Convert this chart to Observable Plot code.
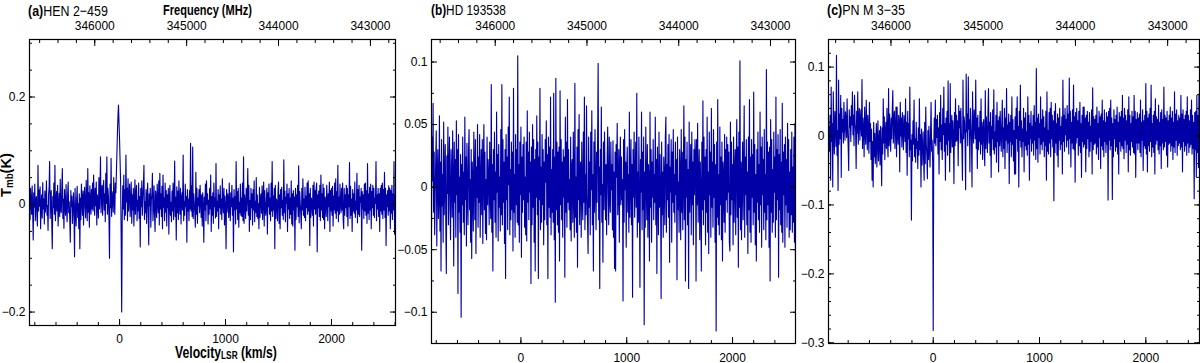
<!DOCTYPE html>
<html><head><meta charset="utf-8">
<script src="https://cdn.jsdelivr.net/npm/d3@7"></script>
<script src="https://cdn.jsdelivr.net/npm/@observablehq/plot@0.6"></script>
<style>
body{margin:0;background:#fff;}
#wrap{position:relative;width:1200px;height:363px;overflow:hidden;background:#fff;}
#wrap svg.pp{position:absolute;top:0;}
#overlay{position:absolute;left:0;top:0;pointer-events:none;}
</style></head><body><div id="wrap"></div>
<script>
const C = 299792.458;

// Panel titles
const panelTags = ["(a)", "(b)", "(c)"];
const panelNames = ["HEN 2\u2212459", "HD 193538", "PN M 3\u221235"];

// Channel grids (km/s)
const velStart = [-850, -850, -980];
const velStep = [5, 5, 5];
// Observed frequency (MHz) at v = 0 for each panel's top axis
const restFreq = [345730, 345720, 345542];

// Spectra, T_mb in mK (one row = 100 km/s)
const hen2459_mK = [
12,-28,30,4,-18,35,-10,-66,22,-5,38,-30,8,15,-22,-40,73,-12,27,-3,
33,-45,2,18,-25,41,-8,10,-36,25,-14,6,44,-20,-2,-48,19,30,80,-26,
8,26,-33,-82,15,-6,40,-18,73,-30,3,24,-12,36,-40,-4,21,-22,47,-9,
-15,30,67,-26,10,-44,28,4,-20,37,-8,-32,18,42,-15,5,-27,-70,26,-4,
16,-35,-8,22,-18,-97,30,-12,-40,9,34,-24,2,-45,20,-82,12,-28,38,6,
-20,25,-38,14,32,-6,-25,45,10,-30,67,-14,22,-42,35,4,-18,28,-8,40,
-12,55,8,-20,30,-2,42,-38,18,6,-25,50,-8,25,89,-15,12,36,-20,28,
45,-10,20,-32,58,2,89,-18,30,14,-28,-100,38,-6,86,-22,24,8,-14,50,
10,-18,40,22,60,95,135,165,185,150,120,80,40,-60,-200,-25,35,-8,55,-28,
28,-20,92,5,30,-30,48,-12,15,38,-22,6,42,-35,18,-10,30,-40,2,46,
-18,20,36,-30,8,-12,40,-26,15,-79,30,-4,44,-20,10,35,73,-28,5,-15,
28,-35,12,40,-10,-75,20,-2,30,-42,8,22,58,-30,-6,35,-18,-50,25,10,
-24,38,2,-15,44,-38,58,-8,20,-22,34,-45,55,-5,12,-30,40,-14,26,-40,
18,-6,30,-55,10,36,-20,4,-32,25,-12,40,-28,8,81,-22,14,-66,33,-15,
25,-28,44,2,-18,30,-36,12,22,-10,92,-30,6,-20,38,-4,15,-70,28,-12,
10,-30,26,-8,114,-12,35,-22,107,-26,20,4,-15,-42,60,-18,30,-35,12,-2,
28,-15,36,6,-24,18,-40,22,-6,-70,14,-10,38,-30,44,0,20,-36,8,-18,
30,-8,55,-50,15,-20,22,-35,40,-4,12,-25,76,-22,6,-12,28,-45,18,-6,
35,-18,10,-28,48,2,-15,30,-38,16,-6,-82,28,-14,20,8,-24,40,-10,-30,
22,-4,36,-20,12,-88,28,-10,15,-36,80,-8,24,-28,30,-42,4,-15,38,-20,
12,-22,40,-30,89,-35,18,2,-26,30,-12,14,67,-20,36,-50,8,-28,30,-6,
20,-38,28,-10,44,-32,6,-14,50,-22,18,-26,2,-45,32,-24,10,20,-16,35,
-28,14,42,-40,26,-8,-20,6,30,-55,22,-4,38,-18,12,-30,40,-12,80,-22,
16,-10,30,-82,36,-26,10,4,-30,22,42,-35,18,-45,28,-6,32,-20,8,-28,
83,-15,25,-32,14,2,38,-50,20,-8,30,-26,12,-18,44,-36,20,-40,26,-10,
14,-85,30,-28,18,-4,36,-22,72,-34,24,2,-16,-45,30,-10,48,-20,10,-24,
32,-30,16,-6,40,-18,44,-12,20,-76,30,-24,12,4,-20,36,-40,42,-8,26,
-18,30,40,-88,18,-6,25,-22,36,-30,55,-10,20,-24,38,-28,30,-45,14,2,
-22,36,8,-30,20,-4,42,-50,26,-12,30,-20,34,-40,16,-10,40,-16,48,-26,
24,-12,73,-32,14,-18,38,4,-15,30,-10,40,-28,-45,30,-20,18,-6,36,-22,
30,-40,18,-4,78,-26,34,-20,10,-50,28,-12,20,-16,42,-24,6,-10,58,-34,
28,-18,36,-22,14,4,30,-85,24,-8,18,-26,38,-12,40,-20,26,-35,76,-16,
20,-28,32,-10,38,-45,24,-6,36,-20,30,-24,12,2,80,-30,18,-8,30,-22,
20,-50,30,-12,36,-18,40,-26,28,-10,60,-24,30,-76,18,-4,26,-20,35,-12,
30,-45,26,-16,36,-28,20,-10,80,-55,18
];
const hd193538_mK = [
18,-32,40,5,67,-20,28,-38,-6,22,45,-47,12,30,-25,-8,57,-35,20,-67,
38,-15,10,-44,52,-22,6,34,-28,-69,25,-5,48,-30,14,40,-18,-42,30,8,
-24,45,2,-63,36,-12,22,-40,53,-6,30,-85,42,-20,8,-36,26,-104,18,-14,
40,-28,12,-38,56,-10,24,-47,35,-4,-30,28,46,-18,6,-44,30,-57,20,2,
-35,44,10,-26,38,-53,16,-8,50,-32,24,-12,42,-40,4,30,-22,38,-45,14,
50,-18,28,-37,6,-42,40,-14,22,10,-30,36,-8,-25,82,-36,18,-67,30,-10,
44,-28,12,-40,60,-4,26,-43,34,-16,8,-35,46,-22,82,-30,38,-12,20,-45,
30,-73,42,-10,24,-34,48,2,72,-38,14,-26,36,-18,28,-51,79,-20,10,-40,
42,-14,30,-28,105,-30,18,-44,36,-6,48,-56,24,-20,34,-10,40,-32,8,-38,
36,-43,61,-12,28,-26,44,-4,20,-77,32,-30,50,-16,38,-44,22,-67,30,-8,
57,-22,36,-73,24,-10,79,-34,16,-28,42,-14,30,-46,20,-26,38,4,53,-30,
26,-73,40,-16,32,-24,72,-38,14,-20,30,-28,75,-42,24,-92,87,-18,36,-30,
28,-36,32,-59,77,-14,38,-26,20,-40,30,-8,24,-72,56,-20,36,-32,70,-12,
30,-18,6,-34,40,-43,16,22,-28,44,-6,-40,83,-24,8,-36,32,-64,46,-10,
58,-30,14,20,-40,36,-8,-26,44,-12,72,-34,10,-22,65,-4,-30,-53,40,-16,
20,-38,44,-2,61,-30,10,-67,36,-20,46,4,-34,28,-12,38,99,-26,16,-81,
30,-6,64,-28,2,-60,36,-18,44,10,-26,18,-38,22,48,-4,-30,40,-12,-20,
36,-2,18,-34,37,-40,12,-65,28,-67,34,8,51,-22,-4,30,-44,16,40,-14,
24,-10,6,-91,38,-28,46,-2,20,-48,14,32,-20,10,-36,60,-24,4,38,-30,
18,-88,30,-8,44,-24,6,36,-16,75,-40,12,-28,40,-10,-80,22,-4,60,-34,
28,-18,40,-110,12,-32,48,2,-26,34,-40,18,6,-59,60,-16,30,-44,20,-8,
38,-26,10,-12,56,-30,22,-69,32,4,-38,44,-16,26,-2,-89,36,-22,12,-40,
24,8,-30,40,56,-36,18,-10,34,-24,42,-60,16,-4,38,-44,28,-12,46,-20,
10,-28,36,-6,22,-74,40,-18,4,-36,30,12,-42,46,-20,28,-34,6,65,-26,
40,-75,22,-8,36,-30,14,-81,52,-20,2,34,-38,44,-14,20,-46,30,-6,38,
26,-75,38,-14,51,-28,8,30,-42,20,-4,-67,36,-18,69,-30,40,-10,24,-46,
30,-20,56,-36,12,-53,44,-6,28,-40,63,-16,20,-32,46,-8,34,-44,18,-115,
36,-24,70,-30,10,-38,48,-14,24,-42,36,-59,20,6,-28,42,-36,30,-10,40,
-20,34,-4,28,-44,-51,52,-22,36,-10,18,-46,40,-28,12,30,-38,20,54,-24,
32,-64,44,-16,101,-34,20,-42,8,36,-26,14,65,-40,24,-6,38,-30,12,-53,
40,-18,70,-36,24,-44,38,-8,26,-30,76,-20,34,-46,10,-59,30,-12,44,-26,
18,-36,60,-14,32,-48,40,-6,22,-34,46,-20,10,-42,94,-26,36,-14,28,-48,
32,-75,54,-20,38,-36,14,-28,44,-4,24,-40,72,-26,30,-10,42,-72,26,-18,
46,-30,20,-36,67,-44,28,-6,34,-48,40,-14,22,-32,51,-20,38,-40,12,-34,
30,-22,44,-36,16,-28,40,-44,51,-67,28
];
const pnM335_mK = [
14,-22,30,-64,71,-8,18,-74,64,2,-26,36,12,-15,117,-28,8,-79,81,-12,
32,-4,59,-60,40,6,24,-10,49,18,-6,35,22,-2,54,10,-15,-50,38,12,
28,-8,44,16,64,2,30,-14,59,20,8,-47,36,4,64,-12,26,40,-6,22,
38,0,82,-18,26,10,-30,42,6,-12,52,14,-20,30,4,-25,49,-8,18,-34,
10,-64,-8,-74,20,-30,4,-40,-15,18,-45,-2,22,-36,-10,8,-42,14,-20,-72,
12,-26,54,-10,28,-34,6,20,-18,40,-8,-30,69,-14,32,2,-22,26,-4,38,
66,-10,24,36,-18,12,42,-30,42,4,-12,30,18,-52,49,0,26,-16,34,8,
-20,30,14,-8,54,-24,20,-57,36,-4,18,-30,71,-20,-6,-122,2,-36,22,-12,
52,-30,-4,-38,20,-18,-8,-47,12,-28,54,-20,2,-74,10,-42,-14,6,-36,-64,
20,-40,42,-12,-28,-62,8,-34,14,-20,-45,4,49,-22,-6,-40,-282,-18,26,-10,
52,-14,24,-2,30,-26,12,-55,34,-8,59,-20,16,-34,40,2,71,-22,18,-64,
26,-12,36,-28,80,-6,18,-52,76,-24,10,30,-16,22,-2,-69,34,-14,54,-8,
30,-6,22,-43,44,12,36,-10,40,4,-18,-64,81,-4,28,20,-12,-78,90,6,
32,-14,86,10,24,-52,40,18,-6,-74,64,8,-10,38,22,-4,81,-18,26,-47,
30,-20,12,-8,36,-26,54,-12,20,-34,8,24,-16,-43,66,-18,28,2,-24,32,
69,-10,20,-28,34,-60,14,-4,38,-20,67,-26,6,-16,30,-38,49,-8,22,-52,
28,-14,36,2,-22,18,52,-30,12,-18,40,-47,26,-6,69,-24,16,-10,32,-69,
20,-8,30,-30,57,-12,24,-36,8,-55,28,-55,40,-4,57,-22,14,-74,36,-6,
74,-16,22,-30,10,-8,40,-52,26,-14,34,-20,6,-28,57,-12,30,-64,18,-4,
36,-22,14,-10,30,-28,44,-6,20,-34,98,-18,26,-38,32,-2,18,-26,57,-12,
24,-20,38,-8,28,-30,12,-14,36,-64,64,-22,8,-26,34,-10,40,-30,49,-4,
30,-16,22,-94,36,-24,47,-10,18,-28,32,-45,26,-6,40,-20,14,-12,28,-55,
81,-8,30,-22,40,2,24,-16,44,-6,32,-26,84,-4,36,-45,20,-10,38,-18,
74,-20,28,-67,34,-10,40,-2,22,-28,36,-14,49,-24,18,-60,30,-8,42,-16,
42,-12,26,-52,30,-18,36,-4,20,-30,34,-22,14,-8,38,-55,70,-20,28,-12,
24,-10,30,-26,42,-16,18,-34,36,-2,28,-47,32,-14,52,-20,22,-30,38,-8,
20,-24,34,-12,28,-93,36,-6,40,-20,52,-14,26,-92,18,-30,38,-4,24,-22,
30,-16,42,-26,20,-55,34,-8,28,-22,36,-14,59,-18,26,-33,40,-6,30,-24,
22,-12,38,-52,57,-20,30,-28,18,-8,36,-16,28,-24,59,-26,36,-60,24,-10,
34,-20,26,-10,32,-24,52,-30,20,-6,38,-50,22,-14,30,-18,76,-26,36,-52,
26,-14,32,-22,40,-8,74,-30,18,-16,30,-24,36,-55,54,-12,28,-6,24,-20,
45,-26,20,-14,34,-47,38,-10,24,-20,71,-16,30,-8,26,-28,36,-45,22,-12,
30,-10,42,-22,26,-14,36,-34,20,-16,64,-24,32,-6,38,-28,22,-14,30,-10,
26,-20,59,-16,32,-52,38,-8,24,-22,30,-14,36,-28,57,-10,30,-24,22,-16,
38,-12,52,-26,30,-18,20,-91,34,-20,36,-60,59,-24,30,-46,61
];
const spectra = [hen2459_mK, hd193538_mK, pnM335_mK];

// Axis ticks
const velMajor = [0, 1000, 2000];
const freqMajor = [346000, 345000, 344000, 343000];
const yMajor = [[-0.2, 0, 0.2], [-0.1, -0.05, 0, 0.05, 0.1], [-0.3, -0.2, -0.1, 0, 0.1]];
const yMinorStep = [0.05, 0.025, 0.02];

// Layout (per panel)
const layout = [
  {left: 0, width: 400, ml: 29, mr: 5, mb: 38, xd: [-850, 2604], yd: [-0.225, 0.307], bpad: 9},
  {left: 400, width: 400, ml: 31, mr: 5, mb: 20, xd: [-845, 2595], yd: [-0.125, 0.118], bpad: 10},
  {left: 800, width: 400, ml: 28, mr: 1, mb: 20, xd: [-985, 2505], yd: [-0.301, 0.14], bpad: 10}
];

const wrap = document.getElementById("wrap");
const within = (d, [a, b]) => d >= Math.min(a, b) - 1e-9 && d <= Math.max(a, b) + 1e-9;

layout.forEach((L, p) => {
  const data = spectra[p].map((t, i) => ({v: velStart[p] + i * velStep[p], t: t / 1000}));
  const f0 = restFreq[p];
  const f2v = f => C * (f0 - f) / f0;
  const v2f = v => f0 * (1 - v / C);
  const velMinor = d3.range(-1000, 2801, 200).filter(d => within(d, L.xd));
  const fLo = v2f(L.xd[1]), fHi = v2f(L.xd[0]);
  const freqMinorV = d3.range(Math.ceil(fLo / 200) * 200, fHi, 200).map(f2v);
  const freqMajorV = freqMajor.map(f2v).filter(d => within(d, L.xd));
  const st = yMinorStep[p];
  const yMinor = d3.range(Math.ceil(L.yd[0] / st), Math.floor(L.yd[1] / st) + 1).map(k => +(k * st).toFixed(4));
  const yMaj = yMajor[p];
  const fmtY = d => d === 0 ? "0" : (d < 0 ? "\u2212" : "") + String(Math.abs(d));
  const chart = Plot.plot({
    width: L.width, height: 363,
    marginLeft: L.ml, marginRight: L.mr, marginTop: 39, marginBottom: L.mb,
    x: {domain: L.xd},
    y: {domain: L.yd},
    style: {fontFamily: "'Liberation Sans Narrow', 'Liberation Sans', sans-serif", fontSize: "12px", color: "#000", background: "transparent", overflow: "visible"},
    marks: [
      Plot.line(data, {x: "v", y: "t", stroke: "#0000a6", strokeWidth: 1.12, clip: true}),
      // left
      Plot.axisY({anchor: "left", ticks: yMinor, tickSize: 3, dx: 3, fill: "none", label: null}),
      Plot.axisY({anchor: "left", ticks: yMaj, tickSize: 6, dx: 6, fill: "none", label: null}),
      Plot.axisY({anchor: "left", ticks: yMaj, tickSize: 0, tickPadding: 4, tickFormat: fmtY, label: null}),
      // right
      Plot.axisY({anchor: "right", ticks: yMinor, tickSize: 3, dx: -3, fill: "none", label: null}),
      Plot.axisY({anchor: "right", ticks: yMaj, tickSize: 6, dx: -6, fill: "none", label: null}),
      // bottom
      Plot.axisX({anchor: "bottom", ticks: velMinor, tickSize: 3, dy: -3, fill: "none", label: null}),
      Plot.axisX({anchor: "bottom", ticks: velMajor, tickSize: 6, dy: -6, fill: "none", label: null}),
      Plot.axisX({anchor: "bottom", ticks: velMajor, tickSize: 0, tickPadding: L.bpad, tickFormat: d => String(d), label: null}),
      // top (frequency)
      Plot.axisX({anchor: "top", ticks: freqMinorV, tickSize: 3, dy: 3, fill: "none", label: null}),
      Plot.axisX({anchor: "top", ticks: freqMajorV, tickSize: 6, dy: 6, fill: "none", label: null}),
      Plot.axisX({anchor: "top", ticks: freqMajorV, tickSize: 0, tickPadding: 10, tickFormat: v => String(Math.round(v2f(v) / 100) * 100), label: null}),
      Plot.frame({stroke: "#000", strokeWidth: 1.2})
    ]
  });
  chart.classList.add("pp");
  chart.style.left = L.left + "px";
  wrap.appendChild(chart);
});

// Titles and axis labels overlay (scaled horizontally to the reference's condensed lettering)
const NS = "http://www.w3.org/2000/svg";
const ov = document.createElementNS(NS, "svg");
ov.setAttribute("id", "overlay");
ov.setAttribute("width", 1200);
ov.setAttribute("height", 363);
ov.style.fontFamily = "'Liberation Sans Narrow', 'Liberation Sans', sans-serif";
wrap.appendChild(ov);

const labels = [
  {html: `<tspan font-weight="bold">${panelTags[0]}</tspan>${panelNames[0]}`, x: 28, y: 16, w: 80, size: 15},
  {html: `<tspan font-weight="bold">${panelTags[1]}</tspan>${panelNames[1]}`, x: 431, y: 15, w: 75, size: 15},
  {html: `<tspan font-weight="bold">${panelTags[2]}</tspan>${panelNames[2]}`, x: 827, y: 15, w: 78, size: 15},
  {html: `Frequency (MHz)`, x: 163, y: 15, w: 89, size: 15, bold: true},
  {html: `Velocity<tspan font-size="11.5" dy="1">LSR</tspan><tspan dy="-1"> (km/s)</tspan>`, x: 175, y: 358, w: 102, size: 17, bold: true},
  {html: `T<tspan font-size="10" dy="2">mb</tspan><tspan dy="-2">(K)</tspan>`, x: 11, y: 175, w: 44, size: 15, bold: true, rotate: true}
];
labels.forEach(l => {
  const t = document.createElementNS(NS, "text");
  t.setAttribute("font-size", l.size);
  t.setAttribute("fill", "#000");
  if (l.bold) t.setAttribute("font-weight", "bold");
  t.innerHTML = l.html;
  ov.appendChild(t);
  const natural = t.getComputedTextLength() || l.w;
  const sx = l.w / natural;
  if (l.rotate) {
    t.setAttribute("text-anchor", "middle");
    t.setAttribute("transform", `translate(${l.x},${l.y}) rotate(-90) scale(${sx},1)`);
  } else {
    t.setAttribute("transform", `translate(${l.x},${l.y}) scale(${sx},1)`);
  }
});
</script></body></html>
